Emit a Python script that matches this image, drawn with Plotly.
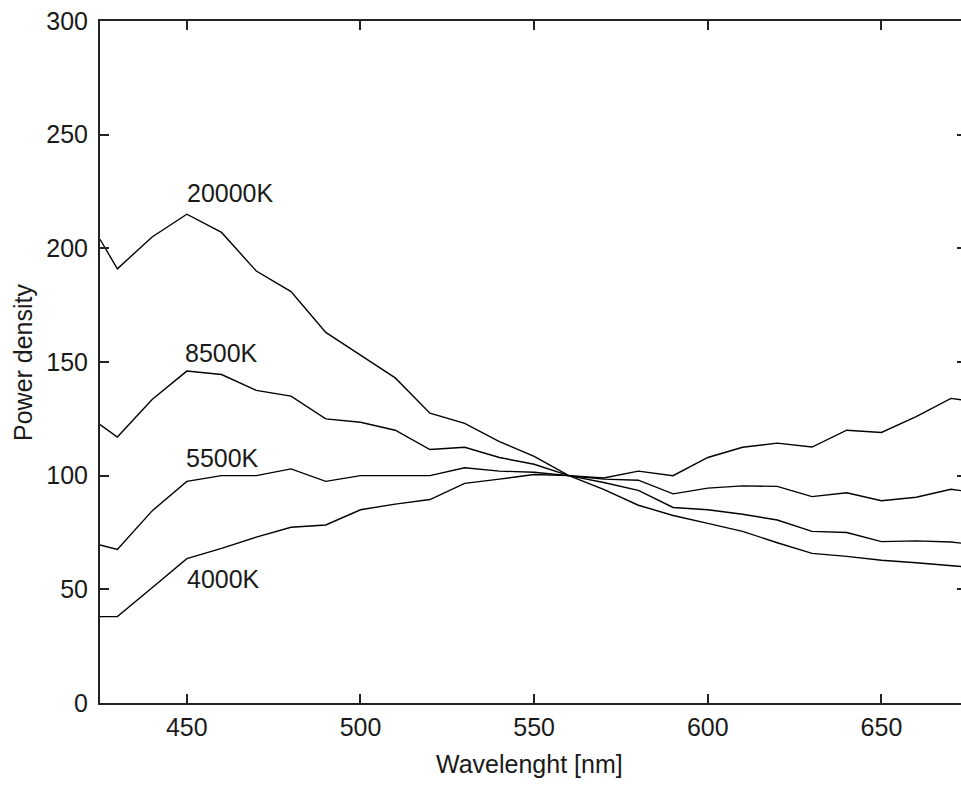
import plotly.graph_objects as go

wavelength = [425, 430, 440, 450, 460, 470, 480, 490, 500, 510, 520, 530, 540,
              550, 560, 570, 580, 590, 600, 610, 620, 630, 640, 650, 660, 670, 675]

k20000 = [204, 191, 205, 215, 207, 190, 181, 163, 153, 143, 127.5, 123, 115,
          108.5, 100, 94, 87, 82.5, 79, 75.5, 70.5, 65.8, 64.5, 62.8, 61.7, 60.5, 59.8]
k8500 = [122.5, 117, 133.5, 146, 144.5, 137.5, 135, 125, 123.5, 120, 111.5, 112.5, 108,
         105, 100, 97, 93.5, 86, 85, 83, 80.5, 75.5, 75, 71, 71.3, 70.8, 70]
k5500 = [69.5, 67.5, 84.5, 97.5, 100, 100, 103, 97.5, 100, 100, 100, 103.5, 102,
         101.5, 100, 98.5, 98, 92, 94.5, 95.5, 95.3, 90.8, 92.5, 89, 90.5, 94, 93]
k4000 = [38, 38, 50.7, 63.5, 68, 73, 77.3, 78.3, 85, 87.5, 89.5, 96.6, 98.5,
         100.5, 100, 99, 102, 100, 108, 112.5, 114.3, 112.6, 120, 119, 126, 134, 133]

series = [("20000K", k20000), ("8500K", k8500), ("5500K", k5500), ("4000K", k4000)]
label_x = [449.5, 449, 449.3, 449.5]
label_y = [224.4, 153.8, 107.6, 54.5]

y_ticks = [0, 50, 100, 150, 200, 250, 300]
x_ticks = [450, 500, 550, 600, 650]

FONT = "Liberation Sans, Arial, sans-serif"
AX = "#222222"
TXT = "#1a1a1a"

fig = go.Figure()
for name, vals in series:
    fig.add_trace(go.Scatter(x=wavelength, y=vals, mode="lines", name=name,
                             line=dict(color="black", width=1.4),
                             showlegend=False, hoverinfo="skip"))
# dummy trace for the right-side tick axis
fig.add_trace(go.Scatter(x=[None], y=[None], yaxis="y2", showlegend=False,
                         hoverinfo="skip"))

for (name, _), lx, ly in zip(series, label_x, label_y):
    fig.add_annotation(x=lx, y=ly, xref="x", yref="y", text=name, showarrow=False,
                       xanchor="left", yanchor="middle",
                       font=dict(family=FONT, size=25, color=TXT))

fig.add_annotation(x=0.5, y=0, xref="paper", yref="paper", text="Wavelenght [nm]",
                   showarrow=False, xanchor="center", yanchor="middle",
                   xshift=-1.5, yshift=-61,
                   font=dict(family=FONT, size=25, color=TXT))
fig.add_annotation(x=0, y=0.5, xref="paper", yref="paper", text="Power density",
                   showarrow=False, xanchor="center", yanchor="middle",
                   xshift=-77, textangle=-90,
                   font=dict(family=FONT, size=25, color=TXT))

fig.update_layout(
    width=961, height=785,
    margin=dict(l=100, r=0, t=21, b=82),
    paper_bgcolor="white", plot_bgcolor="white",
    font=dict(family=FONT, size=25, color=TXT),
    xaxis=dict(range=[425, 672.9], tickmode="array", tickvals=x_ticks,
               ticks="inside", ticklen=9, tickwidth=2, tickcolor=AX,
               showline=True, linewidth=2, linecolor=AX, mirror="ticks",
               showgrid=False, zeroline=False, ticklabelstandoff=1,
               tickfont=dict(family=FONT, size=25, color=TXT)),
    yaxis=dict(range=[0, 300], tickmode="array", tickvals=y_ticks,
               ticks="inside", ticklen=9, tickwidth=2, tickcolor=AX,
               showline=True, linewidth=2, linecolor=AX, mirror=False,
               showgrid=False, zeroline=False, ticklabelstandoff=5,
               tickfont=dict(family=FONT, size=25, color=TXT)),
    yaxis2=dict(range=[0, 300], overlaying="y", side="right", tickmode="array",
                tickvals=y_ticks, ticks="inside", ticklen=4, tickwidth=2,
                tickcolor=AX, showticklabels=False, showline=False,
                showgrid=False, zeroline=False),
)

fig.write_html("out.html")
